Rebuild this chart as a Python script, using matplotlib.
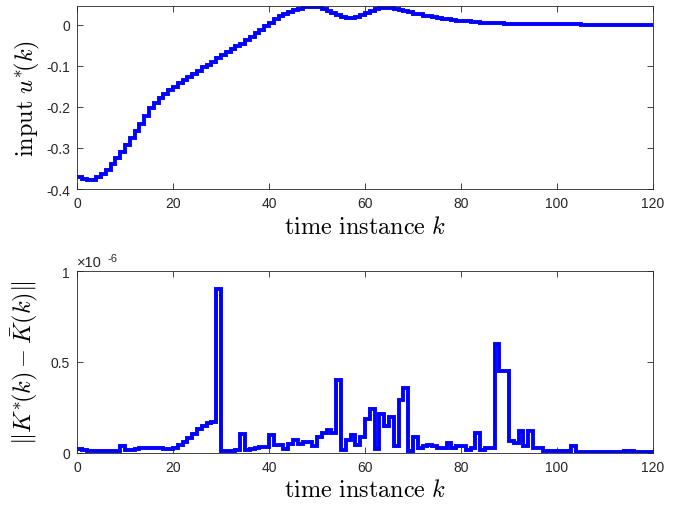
import numpy as np
import matplotlib
matplotlib.use("Agg")
import matplotlib.pyplot as plt

plt.rcParams['font.family'] = ['Liberation Sans', 'DejaVu Sans']
plt.rcParams['mathtext.fontset'] = 'cm'

# time instances
k = np.arange(0, 121)

# optimal input u*(k)
u_opt = [
    -0.371, -0.376, -0.379, -0.379, -0.372, -0.363, -0.353, -0.338, -0.324, -0.310,
    -0.294, -0.277, -0.260, -0.241, -0.222, -0.204, -0.190, -0.178, -0.168, -0.159,
    -0.151, -0.143, -0.135, -0.127, -0.119, -0.112, -0.104, -0.097, -0.090, -0.082,
    -0.075, -0.067, -0.060, -0.053, -0.046, -0.038, -0.030, -0.021, -0.012, -0.003,
    0.005, 0.013, 0.020, 0.026, 0.031, 0.035, 0.039, 0.042, 0.044, 0.044,
    0.042, 0.038, 0.033, 0.028, 0.023, 0.019, 0.017, 0.017, 0.019, 0.023,
    0.028, 0.033, 0.037, 0.040, 0.041, 0.041, 0.039, 0.036, 0.033, 0.030,
    0.027, 0.025, 0.022, 0.020, 0.018, 0.016, 0.014, 0.013, 0.011, 0.010,
    0.009, 0.008, 0.007, 0.006, 0.005, 0.004, 0.004, 0.003, 0.003, 0.002,
    0.002, 0.002, 0.001, 0.001, 0.001, 0.001, 0.001, 0.001, 0.001, 0.001,
    0.001, 0.001, 0.001, 0.001, 0.001, 0.000, 0.000, 0.000, 0.000, 0.000,
    0.000, 0.000, 0.000, 0.000, 0.000, 0.000, 0.000, 0.000, 0.000, 0.000,
    0.000,
]

# ||K*(k) - Kbar(k)||, in units of 1e-6
gain_err_e6 = [
    0.020, 0.015, 0.010, 0.010, 0.010, 0.010, 0.010, 0.010, 0.010, 0.040,
    0.018, 0.018, 0.020, 0.025, 0.030, 0.030, 0.028, 0.025, 0.020, 0.020,
    0.030, 0.045, 0.062, 0.082, 0.105, 0.130, 0.150, 0.165, 0.172, 0.900,
    0.012, 0.010, 0.010, 0.015, 0.105, 0.015, 0.020, 0.028, 0.032, 0.035,
    0.098, 0.042, 0.042, 0.020, 0.050, 0.070, 0.050, 0.060, 0.060, 0.040,
    0.086, 0.110, 0.124, 0.110, 0.400, 0.015, 0.073, 0.100, 0.045, 0.088,
    0.185, 0.243, 0.020, 0.216, 0.148, 0.200, 0.036, 0.290, 0.355, 0.010,
    0.090, 0.027, 0.040, 0.045, 0.040, 0.030, 0.027, 0.055, 0.027, 0.040,
    0.036, 0.018, 0.027, 0.110, 0.018, 0.030, 0.030, 0.600, 0.450, 0.450,
    0.066, 0.055, 0.120, 0.036, 0.120, 0.027, 0.030, 0.010, 0.012, 0.012,
    0.012, 0.012, 0.012, 0.036, 0.008, 0.006, 0.006, 0.006, 0.006, 0.006,
    0.006, 0.006, 0.008, 0.008, 0.010, 0.010, 0.008, 0.006, 0.006, 0.006,
    0.006,
]
gain_err = np.array(gain_err_e6) * 1e-6

x_ticks = [0, 20, 40, 60, 80, 100, 120]
u_ticks = [-0.4, -0.3, -0.2, -0.1, 0]
u_tick_labels = ['-0.4', '-0.3', '-0.2', '-0.1', '0']
e_ticks = [0, 0.5e-6, 1e-6]
e_tick_labels = ['0', '0.5', '1']

W, H = 683, 506
fig = plt.figure(figsize=(W / 100, H / 100), dpi=100)

axc = '#262626'
ax1 = fig.add_axes([77 / W, (H - 190) / H, 576 / W, 183 / H])
ax2 = fig.add_axes([77 / W, (H - 454) / H, 576 / W, 182 / H])

line_kw = dict(where='post', color='#0000ff', lw=2.8,
               solid_joinstyle='miter', solid_capstyle='butt')
ax1.step(k, u_opt, **line_kw)
ax2.step(k, gain_err, **line_kw)

for ax in (ax1, ax2):
    ax.set_xlim(0, 120)
    ax.set_xticks(x_ticks)
    ax.set_xticklabels([str(t) for t in x_ticks])
    ax.tick_params(direction='in', top=True, right=True, length=4, width=0.6,
                   colors=axc, labelsize=10, pad=5)
    for s in ax.spines.values():
        s.set_color(axc)
        s.set_linewidth(0.6)
    ax.set_xlabel(r'$\mathrm{time\ instance}\ k$', fontsize=17.5, color='black', labelpad=4)

ax1.set_ylim(-0.4, 0.0455)
ax1.set_yticks(u_ticks)
ax1.set_yticklabels(u_tick_labels)
ax1.set_ylabel(r'$\mathrm{input}\ u^{*}\!(k)$', fontsize=17.5, color='black', labelpad=3)

ax2.set_ylim(0, 1e-6)
ax2.set_yticks(e_ticks)
ax2.set_yticklabels(e_tick_labels)
ax2.set_ylabel(r'$\|K^{*}\!(k)-\bar{K}(k)\|$', fontsize=17.5, color='black', labelpad=7)
ax2.text(0.0, 1.012, '×10', transform=ax2.transAxes, fontsize=10.5, color=axc,
         ha='left', va='bottom')
ax2.text(0.053, 1.045, '-6', transform=ax2.transAxes, fontsize=8, color=axc,
         ha='left', va='bottom')

fig.savefig('out.png', dpi=100)
